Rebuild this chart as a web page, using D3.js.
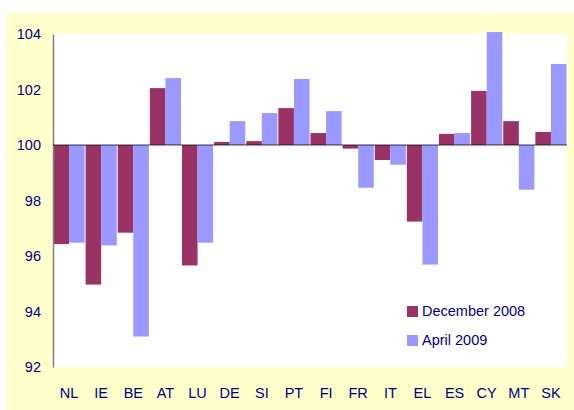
<!DOCTYPE html>
<html>
<head>
<meta charset="utf-8">
<script src="https://cdn.jsdelivr.net/npm/d3@7"></script>
<style>
  html, body { margin: 0; padding: 0; background: #fff; }
  svg { display: block; }
</style>
</head>
<body>
<svg id="chart" width="574" height="410"></svg>
<script>
const categories = ["NL","IE","BE","AT","LU","DE","SI","PT","FI","FR","IT","EL","ES","CY","MT","SK"];
const seriesNames = ["December 2008", "April 2009"];
const dec2008 = [96.43, 94.97, 96.84, 102.05, 95.66, 100.11, 100.14, 101.33, 100.43, 99.87, 99.46, 97.24, 100.40, 101.95, 100.86, 100.47];
const apr2009 = [96.48, 96.38, 93.10, 102.41, 96.48, 100.86, 101.15, 102.38, 101.22, 98.46, 99.29, 95.69, 100.43, 104.07, 98.39, 102.92];
const yTicks = [92, 94, 96, 98, 100, 102, 104];
const colors = ["#993366", "#9999FF"];

const svg = d3.select("#chart");
const textColor = "#000080";
const font = "'Liberation Sans', Arial, sans-serif";

// backgrounds
svg.append("rect").attr("x", 6).attr("y", 13).attr("width", 568).attr("height", 397).attr("fill", "#FFFFCC");
const plot = { left: 53, right: 567, top: 34, bottom: 367 };
svg.append("rect").attr("x", plot.left).attr("y", plot.top)
  .attr("width", plot.right - plot.left).attr("height", plot.bottom - plot.top).attr("fill", "#fff");

const x0 = d3.scaleBand().domain(categories).range([plot.left, plot.right]).paddingInner(0.03).paddingOuter(0.015);
const x1 = d3.scaleBand().domain(seriesNames).range([0, x0.bandwidth()]);
const y = d3.scaleLinear().domain([92, 104]).range([plot.bottom, plot.top]);

const data = categories.map((c, i) => ({ c, vals: [dec2008[i], apr2009[i]] }));

const g = svg.append("g");
data.forEach(d => {
  d.vals.forEach((v, j) => {
    g.append("rect")
      .attr("x", x0(d.c) + x1(seriesNames[j]))
      .attr("width", x1.bandwidth())
      .attr("y", Math.min(y(v), y(100)))
      .attr("height", Math.abs(y(v) - y(100)))
      .attr("fill", colors[j]);
  });
});

// y axis
const yAxis = d3.axisLeft(y).tickValues(yTicks).tickSize(0).tickPadding(12);
const ya = svg.append("g").attr("transform", `translate(${plot.left},0)`).call(yAxis);
ya.select(".domain").attr("stroke", "#808080").attr("stroke-width", 1.5);
ya.selectAll("text").attr("fill", textColor).style("font-family", font).style("font-size", "14.5px");

// baseline at 100
svg.append("line").attr("x1", plot.left).attr("x2", plot.right)
  .attr("y1", y(100)).attr("y2", y(100))
  .attr("stroke", "#000").attr("stroke-opacity", 0.5).attr("stroke-width", 1.5);

// x axis labels
const xAxis = d3.axisBottom(x0).tickSize(0).tickPadding(0);
const xa = svg.append("g").attr("transform", `translate(0,${plot.bottom + 21})`).call(xAxis);
xa.select(".domain").remove();
xa.selectAll("text").attr("fill", textColor).style("font-family", font).style("font-size", "14.5px");

// legend
const legend = svg.append("g");
seriesNames.forEach((name, j) => {
  const ly = 306 + j * 29;
  legend.append("rect").attr("x", 407).attr("y", ly).attr("width", 11).attr("height", 11).attr("fill", colors[j]);
  legend.append("text").attr("x", 422).attr("y", ly + 10).text(name)
    .attr("fill", textColor).style("font-family", font).style("font-size", "14.5px");
});
</script>
</body>
</html>
